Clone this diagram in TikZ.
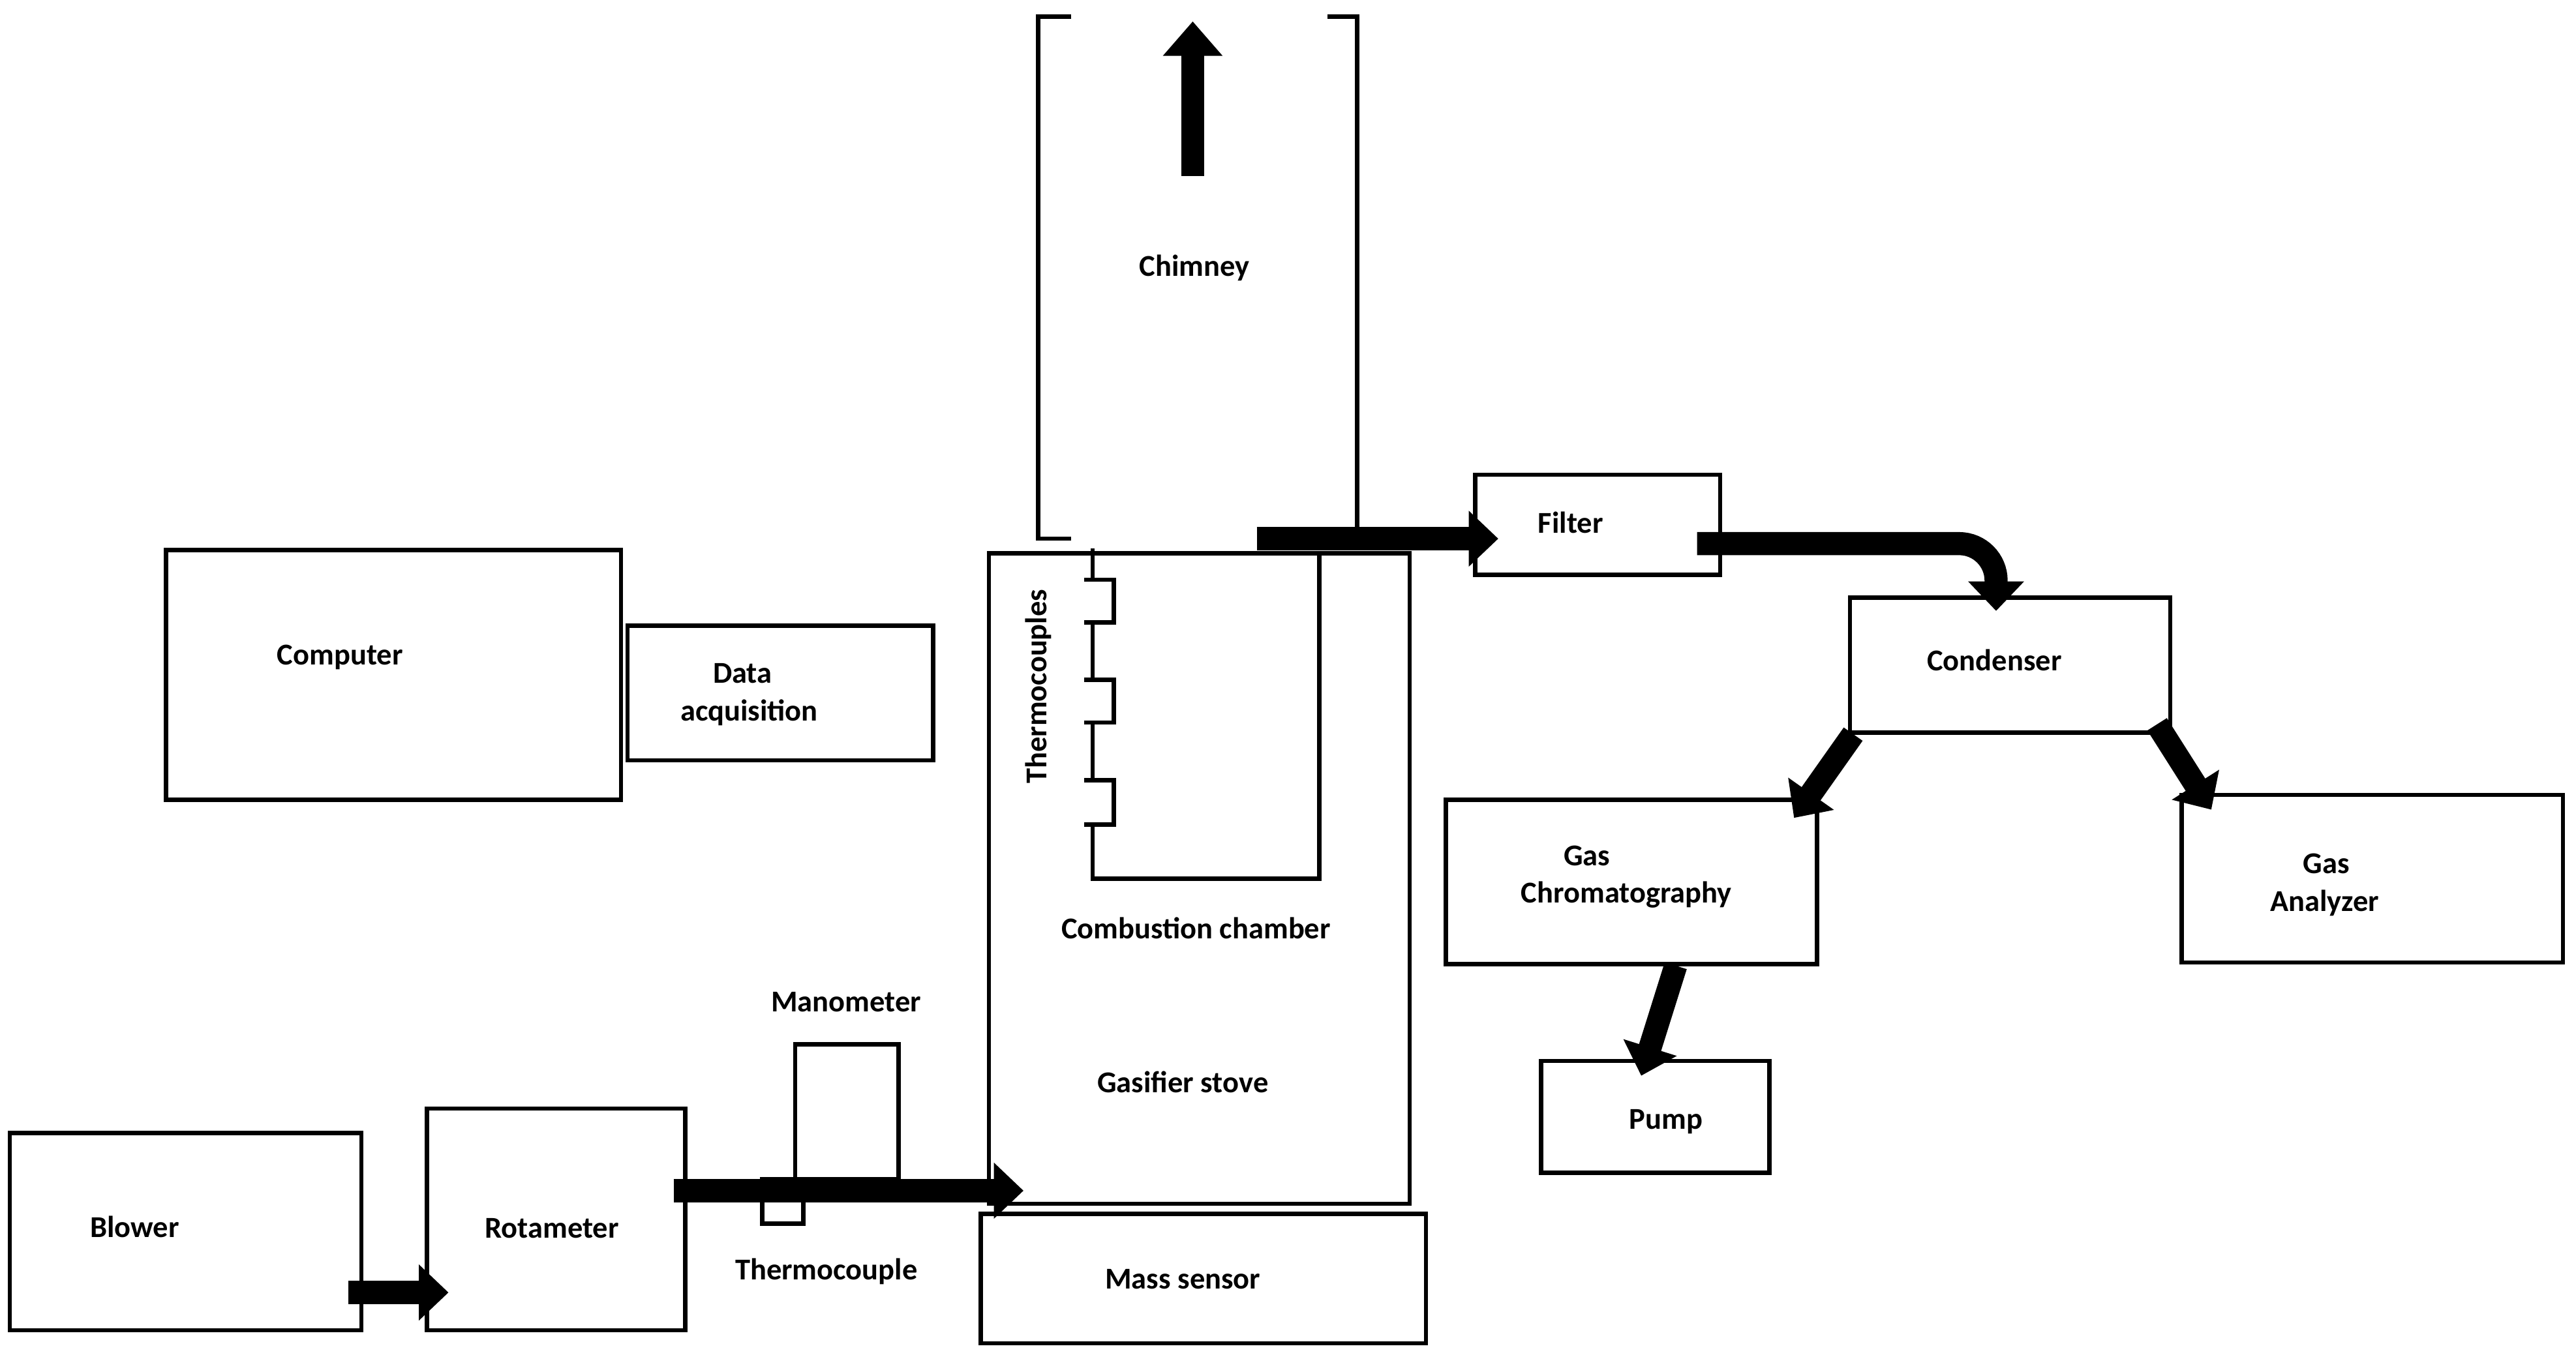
\documentclass[tikz,border=0pt]{standalone}
\usepackage{fontspec}
\setmainfont{Carlito}
\usetikzlibrary{arrows.meta}
\begin{document}
\begin{tikzpicture}[x=0.02cm,y=-0.02cm,
  box/.style={draw,line width=1.5pt,inner sep=0pt,outer sep=0pt},
  lbl/.style={font=\fontsize{10.5}{12}\selectfont\bfseries,inner sep=0pt},
  ln/.style={line width=1.5pt},
  fat/.style={line width=8pt,-{Triangle[width=0.66cm,length=0.36cm]}}]
\useasboundingbox (0,0) rectangle (1568,826);
\newcommand\bx[5]{\node[box,minimum width=#4*0.02cm,minimum height=#5*0.02cm] (#1) at (#2,#3) {};}
\bx{blower}{113}{750}{214}{120}
\bx{rot}{338.5}{742.5}{157}{135}
\bx{mano}{515.5}{677}{63}{82}
\bx{tc}{476.5}{731.5}{25}{27}
\bx{comp}{239.5}{411}{277}{152}
\bx{daq}{475}{422}{186}{82}
\bx{stove}{730}{535}{256}{396}
\bx{mass}{732.5}{778.5}{271}{79}
\bx{filter}{972.5}{319.5}{149}{61}
\bx{cond}{1223.5}{405}{195}{82}
\bx{gc}{993}{537}{226}{100}
\bx{ga}{1444}{535}{232}{102}
\bx{pump}{1007.5}{680}{139}{68}
% chimney brackets
\draw[ln] (652,10) -- (632,10) -- (632,328) -- (652,328);
\draw[ln] (808,10) -- (826,10) -- (826,328);
% thermocouple line and inner chamber
\draw[ln] (665,334) -- (665,353) -- (678,353) -- (678,379) -- (665,379) -- (665,414) -- (678,414) -- (678,440) -- (665,440) -- (665,475) -- (678,475) -- (678,502) -- (665,502) -- (665,535) -- (803,535) -- (803,337);
\foreach \y in {353,379,414,440,475,502}{\draw[ln] (660,\y) -- (665,\y);}
% labels
\node[lbl] (tchimney) at (727,163) {Chimney};
\node[lbl,rotate=90] (ttcs) at (632,418) {Thermocouples};
\node[lbl] (tcc) at (728,565) {Combustion chamber};
\node[lbl] (tgs) at (720,659) {Gasifier stove};
\node[lbl] (tms) at (720,779) {Mass sensor};
\node[lbl] (tbl) at (82,747) {Blower};
\node[lbl] (trot) at (336,748) {Rotameter};
\node[lbl] (tman) at (515,610) {Manometer};
\node[lbl] (ttc) at (503,774) {Thermocouple};
\node[lbl] (tcomp) at (207,400) {Computer};
\node[lbl] (tdaq1) at (452,410) {Data};
\node[lbl] (tdaq2) at (456,434) {acquisition};
\node[lbl] (tfil) at (956,318) {Filter};
\node[lbl] (tcond) at (1214,402) {Condenser};
\node[lbl] (tgc1) at (966,521) {Gas};
\node[lbl] (tgc2) at (990,545) {Chromatography};
\node[lbl] (tga1) at (1416,526) {Gas};
\node[lbl] (tga2) at (1415,550) {Analyzer};
\node[lbl] (tpump) at (1014,683) {Pump};
% connector coordinates
\coordinate (a1) at (212,787); \coordinate (a2) at (273,787);
\coordinate (b1) at (410,725); \coordinate (b2) at (623,725);
\coordinate (c1) at (765,328); \coordinate (c2) at (912,328);
\coordinate (d1) at (1033,331); \coordinate (d2) at (1215,372);
\coordinate (e1) at (1128,447); \coordinate (e2) at (1092,498);
\coordinate (f1) at (1313,441); \coordinate (f2) at (1346,493);
\coordinate (g1) at (1020,588); \coordinate (g2) at (999,655);
\coordinate (h1) at (726,107); \coordinate (h2) at (726,13);
\draw[fat] (a1) -- (a2);
\draw[fat] (b1) -- (b2);
\draw[fat] (c1) -- (c2);
\draw[fat,rounded corners=0.45cm] (d1) -| (d2);
\draw[fat] (e1) -- (e2);
\draw[fat] (f1) -- (f2);
\draw[fat] (g1) -- (g2);
\draw[fat,-{Triangle[width=0.7cm,length=0.42cm]}] (h1) -- (h2);
\end{tikzpicture}
\end{document}
